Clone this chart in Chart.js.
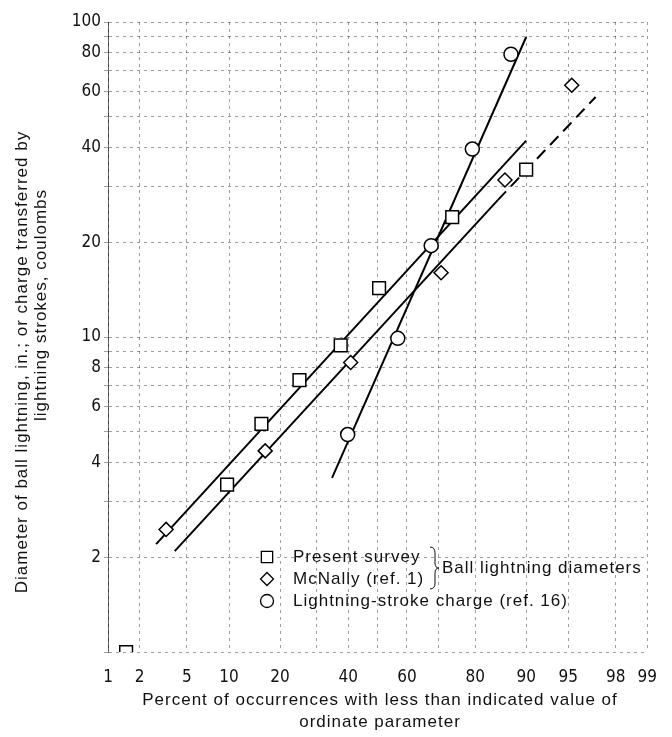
<!DOCTYPE html>
<html><head><meta charset="utf-8">
<script src="https://cdn.jsdelivr.net/npm/chart.js@4"></script>
<style>html,body{margin:0;padding:0;background:#fff}#wrap{width:672px;height:737px;position:relative}</style>
</head><body><div id="wrap"><canvas id="c" width="672" height="737"></canvas></div>
<script>
// ---- data (percent of occurrences, value) ----
const presentPct = [1.5, 9.7, 15.8, 25, 37.5, 50.5, 74, 90];
const presentVal = [1.0, 3.4, 5.3, 7.3, 9.4, 14.3, 24, 34];
const mcnallyPct = [3.4, 16.6, 40.8, 70.8, 86.4, 95.3];
const mcnallyVal = [2.45, 4.35, 8.3, 16, 31.5, 63];
const strokePct = [39.8, 56.9, 67.8, 79.3, 87.5];
const strokeVal = [4.9, 9.9, 19.5, 39.5, 79];
const presentFitPct = [2.8, 90];
const presentFitVal = [2.2, 42];
const mcnallyFitPct = [4.0, 85];
const mcnallyFitVal = [2.09, 27.2];
const mcnallyExtPct = [85, 97];
const mcnallyExtVal = [27.2, 57.8];
const strokeFitPct = [34.7, 90];
const strokeFitVal = [3.57, 89.6];
const xTickLabels = [1, 2, 5, 10, 20, 40, 60, 80, 90, 95, 98, 99];
const xGridValues = [1, 2, 5, 10, 20, 30, 40, 50, 60, 70, 80, 90, 95, 98, 99];
const yTickLabels = [2, 4, 6, 8, 10, 20, 40, 60, 80, 100];
const yGridValues = [1, 2, 3, 4, 5, 6, 7, 8, 9, 10, 20, 30, 40, 50, 60, 70, 80, 90, 100];
const legendLabels = ['Present survey', 'McNally (ref. 1)', 'Lightning-stroke charge (ref. 16)'];
const braceLabel = 'Ball lightning diameters';
const xTitle = ['Percent of occurrences with less than indicated value of', 'ordinate parameter'];
const yTitle = ['Diameter of ball lightning, in.; or charge transferred by', 'lightning strokes, coulombs'];

// ---- probability (normal) scale ----
function probit(p) {
  const a = [-3.969683028665376e+01, 2.209460984245205e+02, -2.759285104469687e+02, 1.383577518672690e+02, -3.066479806614716e+01, 2.506628277459239e+00];
  const b = [-5.447609879822406e+01, 1.615858368580409e+02, -1.556989798598866e+02, 6.680131188771972e+01, -1.328068155288572e+01];
  const c = [-7.784894002430293e-03, -3.223964580411365e-01, -2.400758277161838e+00, -2.549732539343734e+00, 4.374664141464968e+00, 2.938163982698783e+00];
  const d = [7.784695709041462e-03, 3.224671290700398e-01, 2.445134137142996e+00, 3.754408661907416e+00];
  const pl = 0.02425;
  let q, r;
  if (p < pl) { q = Math.sqrt(-2 * Math.log(p)); return (((((c[0]*q+c[1])*q+c[2])*q+c[3])*q+c[4])*q+c[5]) / ((((d[0]*q+d[1])*q+d[2])*q+d[3])*q+1); }
  if (p > 1 - pl) { q = Math.sqrt(-2 * Math.log(1 - p)); return -(((((c[0]*q+c[1])*q+c[2])*q+c[3])*q+c[4])*q+c[5]) / ((((d[0]*q+d[1])*q+d[2])*q+d[3])*q+1); }
  q = p - 0.5; r = q * q;
  return (((((a[0]*r+a[1])*r+a[2])*r+a[3])*r+a[4])*r+a[5])*q / (((((b[0]*r+b[1])*r+b[2])*r+b[3])*r+b[4])*r+1);
}
function ncdf(z) {
  const t = 1 / (1 + 0.2316419 * Math.abs(z));
  const dd = 0.3989423 * Math.exp(-z * z / 2);
  let pr = dd * t * (0.3193815 + t * (-0.3565638 + t * (1.781478 + t * (-1.821256 + t * 1.330274))));
  return z > 0 ? 1 - pr : pr;
}
class ProbitScale extends Chart.Scale {
  determineDataLimits() { this.min = this.options.min; this.max = this.options.max; }
  buildTicks() { return xGridValues.map(v => ({ value: v })); }
  getLabelForValue(v) { return String(v); }
  configure() {
    super.configure();
    this._zmin = probit(this.min / 100);
    this._zmax = probit(this.max / 100);
  }
  getPixelForValue(v) {
    return this.getPixelForDecimal((probit(v / 100) - this._zmin) / (this._zmax - this._zmin));
  }
  getPixelForTick(i) {
    const t = this.ticks;
    if (i < 0 || i > t.length - 1) return null;
    return this.getPixelForValue(t[i].value);
  }
  getValueForPixel(px) {
    const dd = this.getDecimalForPixel(px);
    return 100 * ncdf(this._zmin + dd * (this._zmax - this._zmin));
  }
}
ProbitScale.id = 'probit';
ProbitScale.defaults = {};
Chart.register(ProbitScale);

const zip = (xs, ys) => xs.map((x, i) => ({ x, y: ys[i] }));
const FONT = "'Liberation Sans', Arial, sans-serif";
const NUMFONT = "'Liberation Sans Narrow', 'DejaVu Sans Condensed', 'Liberation Sans', sans-serif";

const lineDs = (xs, ys, dash) => ({
  type: 'line', data: zip(xs, ys), borderColor: '#000', borderWidth: 2,
  borderDash: dash || [], pointRadius: 0, pointHoverRadius: 0, fill: false, showLine: true, order: 2
});
const ptDs = (xs, ys, style, r) => ({
  type: 'scatter', data: zip(xs, ys), pointStyle: style, pointRadius: r, pointHoverRadius: r,
  backgroundColor: '#fff', borderColor: '#000', borderWidth: 1.5, order: 1
});

function drawMarker(ctx, style, x, y, r) {
  ctx.beginPath();
  if (style === 'rect') { const s = Math.SQRT1_2 * r; ctx.rect(x - s, y - s, 2 * s, 2 * s); }
  else if (style === 'rectRot') { ctx.moveTo(x, y - r); ctx.lineTo(x + r, y); ctx.lineTo(x, y + r); ctx.lineTo(x - r, y); ctx.closePath(); }
  else { ctx.arc(x, y, r, 0, Math.PI * 2); }
  ctx.fillStyle = '#fff'; ctx.fill();
  ctx.strokeStyle = '#000'; ctx.lineWidth = 1.3; ctx.stroke();
}

const textPlugin = {
  id: 'texts',
  afterDraw(chart) {
    const ctx = chart.ctx;
    ctx.save();
    ctx.fillStyle = '#111';
    ctx.textBaseline = 'middle';
    try { ctx.letterSpacing = '1px'; } catch (e) {}
    // legend
    const styles = ['rect', 'rectRot', 'circle'];
    const radii = [8, 6.5, 6.5];
    const lx = 267, ly = 557, dy = 22;
    ctx.font = '17px ' + FONT;
    ctx.textAlign = 'left';
    styles.forEach((s, i) => {
      drawMarker(ctx, s, lx, ly + i * dy, radii[i]);
      ctx.fillStyle = '#111';
      ctx.fillText(legendLabels[i], lx + 26, ly + i * dy);
    });
    // brace
    const bx = 430, by0 = ly - 10, by1 = ly + dy + 10, bm = (by0 + by1) / 2;
    ctx.beginPath();
    ctx.moveTo(bx, by0);
    ctx.quadraticCurveTo(bx + 5, by0, bx + 5, by0 + 6);
    ctx.lineTo(bx + 5, bm - 5);
    ctx.quadraticCurveTo(bx + 5, bm, bx + 9, bm);
    ctx.quadraticCurveTo(bx + 5, bm, bx + 5, bm + 5);
    ctx.lineTo(bx + 5, by1 - 6);
    ctx.quadraticCurveTo(bx + 5, by1, bx, by1);
    ctx.strokeStyle = '#111'; ctx.lineWidth = 1; ctx.stroke();
    ctx.fillText(braceLabel, bx + 12, bm);
    // x title
    ctx.textAlign = 'center';
    ctx.fillText(xTitle[0], 380, 700);
    ctx.fillText(xTitle[1], 380, 722);
    // y title
    ctx.save();
    ctx.translate(22, 362);
    ctx.rotate(-Math.PI / 2);
    ctx.fillText(yTitle[0], 0, 0);
    ctx.restore();
    ctx.save();
    ctx.translate(41, 305);
    ctx.rotate(-Math.PI / 2);
    ctx.fillText(yTitle[1], 0, 0);
    ctx.restore();
    ctx.restore();
  }
};

new Chart(document.getElementById('c'), {
  type: 'scatter',
  data: {
    datasets: [
      lineDs(presentFitPct, presentFitVal),
      lineDs(mcnallyFitPct, mcnallyFitVal),
      lineDs(mcnallyExtPct, mcnallyExtVal, [12, 7]),
      lineDs(strokeFitPct, strokeFitVal),
      ptDs(presentPct, presentVal, 'rect', 9),
      ptDs(mcnallyPct, mcnallyVal, 'rectRot', 7),
      ptDs(strokePct, strokeVal, 'circle', 7)
    ]
  },
  options: {
    responsive: false,
    animation: false,
    events: [],
    layout: { padding: { top: 22, right: 15, left: 0, bottom: 0 } },
    plugins: { legend: { display: false }, tooltip: { enabled: false } },
    scales: {
      x: {
        type: 'probit', min: 1, max: 99,
        afterFit(s) { s.height = 85; },
        grid: { color: 'rgba(0,0,0,0.38)', lineWidth: 1, tickLength: 0, drawTicks: false },
        border: { display: false, dash: [3, 4] },
        ticks: {
          autoSkip: false, maxRotation: 0, padding: 15, color: '#111',
          font: { family: NUMFONT, size: 17 },
          callback: v => xTickLabels.includes(v) ? String(v) : ''
        }
      },
      y: {
        type: 'logarithmic', min: 1, max: 100,
        afterFit(s) { s.width = 108; },
        afterBuildTicks(s) { s.ticks = yGridValues.map(v => ({ value: v, major: false })); },
        grid: { color: 'rgba(0,0,0,0.38)', lineWidth: 1, tickLength: 4 },
        border: { display: true, color: 'rgba(0,0,0,0.6)', dash: [3, 4] },
        ticks: {
          autoSkip: false, padding: 3, color: '#111',
          font: { family: NUMFONT, size: 17 },
          callback: v => yTickLabels.includes(v) ? String(v) : ''
        }
      }
    }
  },
  plugins: [textPlugin]
});
</script>
</body></html>
